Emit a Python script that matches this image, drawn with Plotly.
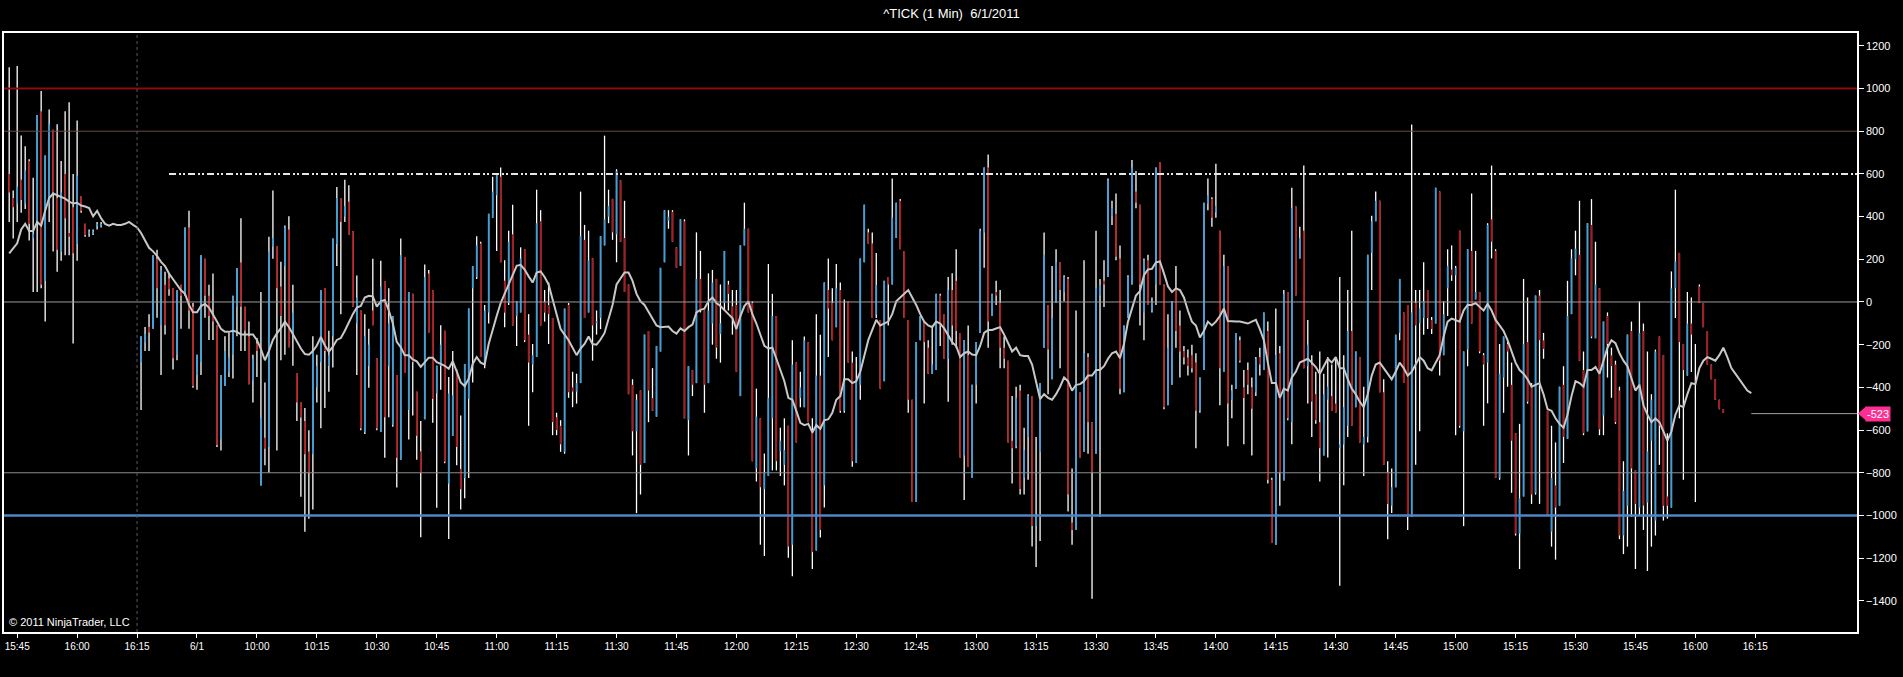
import plotly.graph_objects as go

# ---- data (1-minute ^TICK bars) ----
# previous session tail (slots -33 .. -10)
prior_open = [600, 487, 461, 573, 461, 660, 300, 375, 893, 98, 461, 807, 487, 237, 600, 323, 444, 271, 496, 366, 320, 320, 355, 355]
prior_high = [1100, 522, 1105, 780, 729, 668, 582, 876, 988, 686, 902, 807, 832, 660, 893, 936, 600, 850, 496, 366, 340, 340, 375, 375]
prior_low = [375, 297, 375, 418, 435, 288, 47, 47, 64, -92, 375, 237, 142, 193, 219, 219, -195, 193, 418, 306, 306, 314, 340, 349]
prior_close = [513, 444, 539, 478, 616, 366, 320, 876, 81, 686, 832, 513, 245, 513, 392, 306, 228, 591, 427, 314, 330, 330, 365, 365]

# 6/1 session, 9:31 .. 16:14
day_open = [
    -282, -190, -117, -126, 202, -109, 81, 110, 64, -247,
    81, 29, 349, -22, -342, -282, 202, 29, -57, -109,
    -644, -394, -330, -247, -22, 185, -22, -161, -368, -195,
    -860, -636, -679, 260, 262, 72, 168, 340, -150, -333,
    -471, -558, -700, -713, -400, -282, 64, -300, -161, 271,
    487, 400, 470, 332, -100, -40, -610, -300, -40, -264,
    -609, 98, -300, -575, -342, -739, 211, -506, 38, -420,
    -700, -549, 133, 55, -428, -300, -135, -851, -627, -316,
    -782, -825, -454, 64, 117, 274, -293, -49, 395, 500,
    587, 100, -5, 317, -66, -49, 247, -153, -293, -258,
    378, 0, -14, -75, -540, -580, -702, -14, -400, -420,
    -380, 291, -49, 204, -100, -75, 265, 400, 483, 317,
    570, 300, 82, -388, -606, -415, -754, -136, -450, -537,
    -232, 186, 380, 422, 256, 169, 378, -554, -319, -380,
    108, -40, -380, -101, 108, -150, -5, 82, -20, -14,
    -441, 265, 343, -5, -780, -545, -876, -815, -545, -66,
    -700, -763, -580, -1137, -284, -450, -493, -188, -615, -1164,
    -345, -859, 56, -5, -118, 56, -510, 3, -284, -754,
    -388, 186, 326, 274, -60, -84, -371, 117, 82, 300,
    474, 239, -84, -458, -937, -179, -92, -214, -336, -319,
    30, -57, -266, 56, 99, -145, -719, -249, -824, -388,
    -145, 326, 630, -66, 47, -5, -214, -275, -650, -676,
    -415, -824, -632, -441, -1050, -702, -214, -14, -362, -5,
    186, 47, 108, -1033, -1068, -423, -702, -258, -563, -711,
    30, 99, 117, 400, 413, 204, -423, -75, 82, 517,
    456, -49, 195, -40, 82, 656, 82, -484, -388, 64,
    -110, -230, -260, -249, -284, -510, -319, 460, 482, 420,
    334, -327, 169, -458, -406, -179, -400, -319, -400, -423,
    -258, -319, -136, -833, -1137, -240, -836, 47, -563, 447,
    204, 334, -300, -293, -432, -563, -719, -458, -441, -476,
    -685, -667, -580, -136, -493, -258, -667, -632, 230, 378,
    474, -423, -798, -954, -868, -145, -49, -14, -1007, -5,
    -100, -75, 56, -84, -101, 517, -249, 64, 152, 125,
    334, -606, -223, 239, 12, 47, -249, -284, 387, 239,
    -824, -354, -197, -388, -615, -1085, -911, -188, -397, -894,
    30, -180, -510, -1076, -859, -954, -388, -641, -57, 200,
    221, -319, -606, 361, -170, 64, -532, -66, -250, -293,
    -415, -1094, -955, -136, -789, -963, -136, -940, -650, -1024,
    -162, -249, -911, -963, 64, 230, -197, -345, -101, -370,
    73, -5, -136, -293, -362, -458, -502, -523, -523, -523,
    -523, -523, -523, -523,
]
day_high = [
    -161, -117, -57, 219, 245, 168, 142, 133, 64, 55,
    81, 349, 427, -5, -247, 219, 202, 81, 133, -109,
    -342, -161, -143, 29, 159, 392, -22, -92, -247, -169,
    47, -377, 306, 522, 262, 188, 358, 401, 81, -333,
    -471, -497, -601, -161, -247, 55, 64, -135, 297, 539,
    487, 573, 547, 332, 124, -40, -57, -126, 202, -264,
    193, 98, 64, -66, -342, 297, 211, 47, 38, -420,
    -558, 176, 150, 55, -299, -109, -135, -351, -230, -316,
    -532, -290, -31, 168, 308, 282, -14, 413, 587, 596,
    630, 195, 334, 456, 3, 256, 247, -57, -197, 526,
    430, 56, 91, -75, -519, -554, -31, -5, -327, -336,
    517, 361, 334, 204, -40, 308, 779, 526, 483, 622,
    570, 474, 82, -362, -432, -415, -153, -136, -310, -206,
    160, 430, 430, 430, 256, 387, 387, -301, -319, 326,
    239, -40, 134, 150, 108, 82, 239, 99, 56, 56,
    265, 465, 343, 3, -406, -545, -710, 178, 38, -66,
    -589, -545, -580, -179, -284, -327, -162, -188, -545, -57,
    -153, 91, 204, 64, 178, 91, 12, 3, -232, -258,
    204, 456, 343, 326, 230, -84, 99, 117, 578, 465,
    482, 239, -84, -458, -188, -66, -92, -179, -110, 38,
    38, -57, 117, 134, 247, -145, -179, -110, -388, -188,
    343, 630, 691, 38, 99, 56, -162, -275, -441, -397,
    -388, -589, -432, -441, -632, -380, 326, -14, 169, 247,
    186, 125, 117, -780, -40, -423, 195, -240, -563, 334,
    108, 195, 578, 474, 508, 265, -110, 125, 665, 613,
    456, 204, 221, 21, 630, 656, 82, -57, 3, 169,
    -40, -206, -223, -200, -240, -354, 465, 578, 491, 648,
    334, 221, 169, -388, -145, -162, -319, -284, -354, -258,
    -214, -49, -92, -824, -31, -206, 56, 47, 535, 447,
    352, 639, -84, -249, -327, -232, -336, -258, -293, -266,
    117, -249, 56, 334, -232, -258, -397, 221, 404, 517,
    474, -362, -746, -780, -153, 108, -49, -14, 831, 56,
    56, 186, 56, -70, 535, 517, 3, 247, 265, 169,
    334, -232, 247, 508, 239, 47, -240, 369, 639, 247,
    -197, -162, -188, -284, -615, -571, 108, 21, -380, 30,
    56, -145, -510, -580, -658, -397, -301, 99, 247, 334,
    474, -232, 369, 482, 282, 64, -92, -49, -214, -275,
    -397, -746, -153, -92, -789, 3, -101, -232, -432, -223,
    -162, -249, -615, 143, 526, 230, -197, 47, 21, -197,
    82, -5, -136, -293, -362, -458, -502, -523, -523, -523,
    -523, -523, -523, -523,
]
day_low = [
    -506, -230, -230, -126, -74, -342, -152, 29, -316, -273,
    -126, 29, -126, -402, -411, -342, -74, -178, -178, -679,
    -696, -394, -351, -359, -161, -230, -230, -385, -471, -351,
    -860, -765, -800, 202, -696, -273, -247, -212, -299, -558,
    -912, -1076, -1016, -972, -471, -592, -497, -420, -307, 168,
    -57, 375, 314, -22, -342, -601, -618, -402, -109, -601,
    -609, -730, -540, -584, -869, -739, -333, -644, -532, -739,
    -1102, -549, -143, -566, -964, -411, -756, -1110, -627, -765,
    -972, -920, -825, -377, 108, -258, -310, -101, 395, 239,
    186, -118, -14, -110, -206, -49, -188, -580, -423, -258,
    -110, -92, -197, -624, -624, -702, -711, -449, -493, -476,
    -380, -75, -49, -275, -153, -127, 265, 369, 291, 186,
    282, 47, -432, -719, -989, -902, -754, -563, -510, -537,
    -232, 186, 343, 282, 160, 169, -545, -719, -441, -380,
    -49, -519, -380, -200, -266, -284, -40, -40, -153, -327,
    -441, 265, -49, -746, -841, -1137, -1190, -815, -789, -789,
    -815, -859, -1198, -1285, -658, -493, -493, -563, -1251, -1164,
    -1103, -963, -258, -179, -118, -519, -519, -284, -772, -754,
    -458, 186, 274, -75, -75, -406, -371, -110, 82, 300,
    247, -75, -519, -937, -937, -179, -476, -336, -336, -319,
    -206, -266, -467, -200, -214, -728, -928, -772, -824, -476,
    -145, 160, -214, -66, -14, -310, -310, -658, -850, -685,
    -902, -902, -833, -1146, -1242, -1120, -214, -432, -362, -5,
    -310, 3, -981, -1137, -1068, -728, -702, -711, -1390, -711,
    -1007, -23, 117, 361, 195, -432, -423, -75, 82, 439,
    -110, -179, -14, -49, -14, 82, -502, -484, -388, -214,
    -354, -293, -345, -330, -685, -519, -319, 430, 352, 395,
    -484, -327, -676, -545, -406, -284, -667, -432, -719, -441,
    -345, -319, -850, -1129, -1137, -954, -836, -554, -667, 30,
    204, -310, -476, -632, -571, -841, -719, -728, -510, -519,
    -1329, -859, -632, -580, -493, -658, -815, -658, 56, 378,
    -423, -763, -1111, -989, -868, -179, -380, -1068, -1007, -763,
    -606, -153, -127, -150, -101, -345, -249, -66, 99, -624,
    -589, -1050, -301, -101, 12, -240, -580, -475, 204, -824,
    -833, -519, -397, -894, -1094, -1251, -911, -476, -946, -902,
    -946, -266, -998, -1146, -1207, -954, -754, -641, -57, 125,
    -275, -624, -606, -170, -170, -624, -624, -354, -449, -571,
    -1111, -1181, -1146, -1007, -1251, -998, -1068, -1260, -1146, -1094,
    -763, -1024, -1015, -963, -75, -545, -833, -345, -328, -937,
    -5, -118, -293, -362, -458, -502, -519, -523, -523, -523,
    -523, -523, -523, -523,
]
day_close = [
    -161, -150, -143, 219, 64, 150, -109, 60, -264, 55,
    29, 349, -40, -394, -247, 219, 29, -66, -92, -670,
    -342, -230, -260, 29, 159, -22, -135, -385, -264, -230,
    -541, -687, 237, 300, 64, -66, 349, -212, -50, -471,
    -541, -713, -800, -238, -300, 55, -230, -250, 297, 487,
    375, 450, 314, -22, 20, -592, -161, -200, -109, -592,
    72, -540, -100, -66, -730, 219, -333, 47, -282, -627,
    -800, 116, -143, -454, -299, -200, -748, -428, -437, -679,
    -877, -290, -31, 168, 265, -258, -40, 413, 517, 596,
    186, -50, 282, -110, 3, 204, -179, -284, -249, 369,
    -110, -50, -57, -563, -600, -667, -31, -423, -420, -380,
    308, -75, 195, -110, -90, 308, 387, 450, 326, 613,
    282, 47, -432, -606, -458, -763, -153, -415, -510, -206,
    160, 430, 400, 282, 160, 387, -545, -301, -388, 108,
    -40, -388, -40, 91, -214, -100, 239, 38, -80, -327,
    265, 343, -49, -746, -537, -868, -798, -449, -66, -746,
    -650, -693, -1146, -293, -658, -400, -179, -563, -1172, -345,
    -1068, 91, -31, -179, 64, -510, -362, -284, -746, -371,
    204, 456, 274, -75, 80, -406, 99, 82, 395, 465,
    247, -75, -458, -937, -188, -66, -188, -336, -293, 38,
    -110, -266, 56, -110, -136, -728, -179, -772, -388, -188,
    334, 630, -92, 38, 30, -214, -266, -658, -685, -449,
    -876, -693, -441, -1050, -1007, -380, 221, -223, -75, 186,
    56, 117, -902, -1068, -380, -728, -240, -563, -798, 64,
    80, 82, 570, 440, 212, -406, -110, 117, 630, 465,
    82, 195, -14, 0, 630, 82, -493, -214, 3, -136,
    -232, -260, -300, -310, -510, -354, 465, 500, 395, 450,
    -310, 169, -476, -415, -145, -275, -450, -388, -500, -266,
    -293, -49, -833, -1129, -249, -798, 38, -545, 439, 30,
    300, -310, -200, -467, -554, -685, -432, -397, -510, -519,
    -667, -493, -136, -580, -232, -658, -632, 221, 378, 474,
    -423, -763, -946, -868, -153, 108, -380, -1007, -49, -110,
    -30, 3, -75, -127, 535, -275, -57, 169, 125, 160,
    -580, -232, 247, -101, 47, -232, -293, 361, 282, -824,
    -336, -162, -232, -650, -1085, -920, -197, -467, -902, 30,
    -179, -220, -998, -824, -963, -397, -632, -66, 204, 250,
    -275, -615, 369, -162, 82, -597, -92, -197, -300, -563,
    -1094, -885, -153, -780, -946, -145, -954, -700, -458, -232,
    -580, -955, -955, 64, 190, -188, -319, -101, -153, -380,
    -5, -118, -293, -362, -458, -502, -519, -523, -523, -523,
    -523, -523, -523, -523,
]

# moving average line (prior slots -33..-1, then day slots 0..403)
prior_ma = [228, 254, 275, 340, 366, 332, 332, 375, 358, 427, 487, 508, 501, 492, 484, 470, 461,
            465, 452, 447, 440, 401, 427, 392, 366, 358, 366, 361, 361, 366, 375, 361, 349]
day_ma = [
    323, 288, 254, 237, 216, 188, 168, 133, 107, 81, 55, 38, -14, -48, -48, -19, -9, -26, -57, -92,
    -126, -140, -140, -135, -140, -152,
    -152, -152, -152, -178, -221, -273, -230, -178, -147, -123, -92, -117, -152, -187, -218, -244,
    -247, -230, -204, -164, -204, -233, -209, -178, -169, -135, -92, -57, -26, -19, 21, 29, 26, -22,
    3, 9, -40, -100, -187, -212, -250, -250, -269, -278, -304, -282, -261, -261, -282, -290, -299,
    -313, -278, -325, -377, -394, -359, -290,
    -258, -284, -293, -197, -127, -66, -5, 38, 82, 125, 169, 174, 152, 120, 91, 138, 143, 117, 82, 12,
    -57, -127, -153, -179, -214, -249, -218, -197, -162, -197, -200, -176, -145, -84, -14, 82, 108,
    138, 138, 99, 38, 3, -14, -44, -75, -110, -118, -118, -115, -136, -148, -124, -136, -118, -106,
    -49, -37, -31, 3, 21,
    -5, -19, -40, -57, -75, -127, -66, -19, 3, -57, -101, -153, -206, -218, -214, -266, -319, -371,
    -449, -458, -510, -566, -577, -571, -611, -577, -594, -554, -549, -519, -458, -441, -362, -362,
    -380, -371, -327, -258, -179, -131, -84, -110, -101, -92, -57, 3, 21, 38, 56, 21, -14, -57, -92,
    -110, -118, -92, -101, -124, -153, -188,
    -206, -258, -240, -232, -246, -249, -206, -145, -131, -131, -124, -118, -153, -197, -232, -214,
    -249, -253, -253, -293, -371, -455, -432, -449, -458, -432, -397, -354, -371, -415, -388, -385,
    -371, -345, -345, -319, -319, -301, -266, -240, -232, -263, -197, -92, -31, 30, 51, 125, 152,
    155, 186, 190, 134, 73, 47, 64, 56, 21, -40, -92,
    -110, -166, -136, -92, -110, -92, -66, -31, -89, -92, -92, -92, -96, -101, -92, -84, -127, -179,
    -284, -380, -380, -449, -406, -415, -354, -327, -284, -275, -266, -284, -305, -336, -301, -266,
    -284, -258, -310, -310, -362, -406, -432, -467, -493, -432, -345, -293, -284, -310, -336, -362,
    -327, -284, -310, -345, -327, -293, -258, -275, -310, -320,
    -284, -249, -162, -92, -78, -84, -92, -40, -14, -14, -5, -23, -40, -9, -40, -84, -110, -136, -179,
    -232, -284, -319, -336, -362, -397, -388, -380, -432, -502, -510, -545, -571, -589, -528, -441,
    -371, -380, -397, -319, -319, -305, -336, -275, -214, -179, -193, -240, -275, -301, -354, -415,
    -388, -484, -528, -563, -545, -563, -606, -650, -606,
    -528, -484, -493, -432, -380, -385, -310, -275, -258, -266, -275, -249, -214, -258, -310, -336,
    -362, -388, -415, -427,
]

# x axis labels (15-minute marks)
tick_slots = [-31, -16, -1, 14, 29, 44, 59, 74, 89, 104, 119, 134, 149, 164, 179, 194, 209, 224,
              239, 254, 269, 284, 299, 314, 329, 344, 359, 374, 389, 404]
tick_text = ["15:45", "16:00", "16:15", "6/1", "10:00", "10:15", "10:30", "10:45", "11:00", "11:15",
             "11:30", "11:45", "12:00", "12:15", "12:30", "12:45", "13:00", "13:15", "13:30", "13:45",
             "14:00", "14:15", "14:30", "14:45", "15:00", "15:15", "15:30", "15:45", "16:00", "16:15"]

assert len(day_open) == len(day_high) == len(day_low) == len(day_close) == len(day_ma), \
    (len(day_open), len(day_high), len(day_low), len(day_close), len(day_ma))

prior_slot = list(range(-33, -33 + len(prior_close)))
day_slot = list(range(len(day_close)))
ma_slot = list(range(-len(prior_ma), 0)) + day_slot

slots = prior_slot + day_slot
opens = prior_open + day_open
highs = prior_high + day_high
lows = prior_low + day_low
closes = prior_close + day_close
last_close = day_close[-1]

# build vertical segments for wicks and bodies
wick_x, wick_y = [], []
up_x, up_y = [], []
dn_x, dn_y = [], []
for s, o, h, l, c in zip(slots, opens, highs, lows, closes):
    wick_x += [s, s, None]
    wick_y += [l, h, None]
    if c > o:
        up_x += [s, s, None]
        up_y += [o, c, None]
    elif c < o:
        dn_x += [s, s, None]
        dn_y += [o, c, None]

W, H = 1903, 677
FONT = "Arial, Liberation Sans, sans-serif"

fig = go.Figure()
fig.add_trace(go.Scatter(x=wick_x, y=wick_y, mode="lines", line=dict(color="#ffffff", width=1.3),
                         hoverinfo="skip", showlegend=False))
fig.add_trace(go.Scatter(x=up_x, y=up_y, mode="lines", line=dict(color="#3d9fdc", width=1.7),
                         hoverinfo="skip", showlegend=False))
fig.add_trace(go.Scatter(x=dn_x, y=dn_y, mode="lines", line=dict(color="#b3171b", width=1.7),
                         hoverinfo="skip", showlegend=False))
fig.add_trace(go.Scatter(x=ma_slot, y=prior_ma + day_ma, mode="lines",
                         line=dict(color="#c8c8c8", width=2), hoverinfo="skip", showlegend=False))

x_lo, x_hi = -34.3, 429.45

# reference levels
fig.add_hline(y=1000, line=dict(color="#8c0b0b", width=2))
fig.add_hline(y=800, line=dict(color="#6e4848", width=1))
fig.add_hline(y=0, line=dict(color="#9a9a9a", width=1))
fig.add_hline(y=-800, line=dict(color="#8a8a8a", width=1))
fig.add_hline(y=-1000, line=dict(color="#4f86c6", width=2.5))
fig.add_shape(type="line", xref="x", yref="y", x0=7, x1=x_hi, y0=600, y1=600,
              line=dict(color="#e6e6e6", width=2, dash="7px,3px,2px,2px,2px,3px"))
# session break
fig.add_vline(x=-1, line=dict(color="#5a5a5a", width=1, dash="dot"))
# last price line and marker
fig.add_shape(type="line", xref="x", yref="y", x0=day_slot[-1], x1=x_hi, y0=last_close, y1=last_close,
              line=dict(color="#a0a0a0", width=1))
fig.add_shape(type="path", xref="paper", yref="y", xsizemode="pixel", ysizemode="pixel",
              xanchor=1, yanchor=last_close, path="M 1 0 L 9 7 L 9 -7 Z",
              fillcolor="#ff2e92", line=dict(width=0))
fig.add_annotation(x=1, xref="paper", y=last_close, yref="y", xanchor="left", xshift=8,
                   text=str(last_close), showarrow=False, bgcolor="#ff2e92", borderpad=1,
                   font=dict(color="#ffffff", size=11, family=FONT))

fig.add_annotation(x=0, xref="paper", y=0, yref="paper", xanchor="left", yanchor="bottom",
                   xshift=3, yshift=2, text="\u00a9 2011 NinjaTrader, LLC", showarrow=False,
                   font=dict(color="#ffffff", size=11, family=FONT))

fig.update_layout(
    width=W, height=H,
    margin=dict(l=2, r=46, t=33, b=45),
    paper_bgcolor="#000000", plot_bgcolor="#000000",
    title=dict(text="^TICK (1 Min)\u00a0\u00a06/1/2011", x=0.5, xanchor="center",
               y=1 - 13 / H, yanchor="middle", yref="container",
               font=dict(color="#ffffff", size=13, family=FONT)),
    xaxis=dict(range=[x_lo, x_hi], tickmode="array", tickvals=tick_slots, ticktext=tick_text,
               ticks="outside", ticklen=4, tickcolor="#ffffff", showline=True, linecolor="#ffffff",
               linewidth=1.5, mirror=True, showgrid=False, zeroline=False,
               tickfont=dict(color="#ffffff", size=10, family=FONT)),
    yaxis=dict(range=[-1546, 1260], side="right", tick0=0, dtick=200, ticks="outside", ticklen=5,
               tickcolor="#ffffff", showline=True, linecolor="#ffffff", linewidth=1.5, mirror=True,
               showgrid=False, zeroline=False,
               tickfont=dict(color="#ffffff", size=11, family=FONT)),
)

fig.write_html("out.html", config={"displayModeBar": False},
               post_script="document.body.style.margin='0';document.body.style.overflow='hidden';document.body.style.background='#000';")
